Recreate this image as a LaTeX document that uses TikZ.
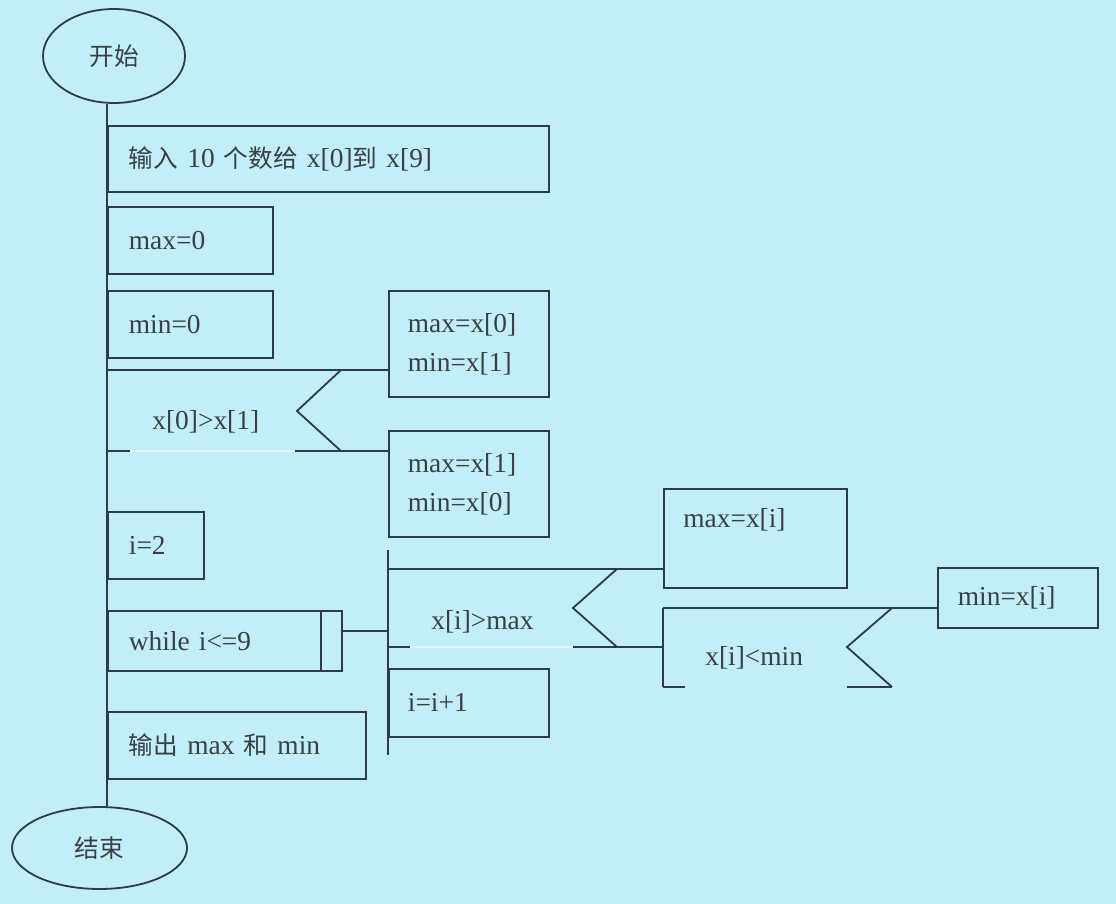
\documentclass[tikz,border=0pt]{standalone}
\usepackage{fontspec}
\setmainfont{Liberation Serif}
\newfontfamily\cjk[Scale=0.9]{Noto Sans CJK SC}
\usetikzlibrary{shapes.geometric, positioning}
\definecolor{nsBack}{HTML}{C1EEF7}
\definecolor{nsLine}{HTML}{2E3A4C}
\definecolor{nsText}{HTML}{3A3F45}
\newcommand{\nsfont}{\fontsize{13.7}{19.5}\selectfont}
\tikzset{
  nsline/.style = {nsLine, line width=0.9pt},
  faint/.style  = {white!55!nsBack, line width=0.9pt},
  term/.style   = {ellipse, draw=nsLine, line width=0.9pt, inner sep=0pt,
                   font=\nsfont, text=nsText},
  blk/.style    = {rectangle, draw=nsLine, line width=0.9pt, anchor=north west,
                   inner xsep=10.5pt, inner ysep=0pt, align=left,
                   font=\nsfont, text=nsText},
  lbl/.style    = {anchor=west, inner sep=0pt, font=\nsfont, text=nsText},
}

\begin{document}
\begin{tikzpicture}[x=0.5pt, y=-0.5pt]
  \fill[nsBack] (0,0) rectangle (1116,904);
  \useasboundingbox (0,0) rectangle (1116,904);
  % start and end
  \node[term, minimum width=71pt, minimum height=47pt] (start) at (114,56) {{\cjk 开始}};
  \node[term, minimum width=87.5pt, minimum height=41pt] (stop) at (99.5,848) {{\cjk 结束}};
  % main sequence
  \node[blk, minimum width=220.5pt, minimum height=33pt, text width=199.5pt] (inp) at (107,125)
    {{\cjk 输入} 10 {\cjk 个数给} x[0]{\cjk 到} x[9]};
  \node[blk, minimum width=82.5pt, minimum height=33.5pt, text width=61.5pt] (mx0) at (107,206) {max=0};
  \node[blk, minimum width=82.5pt, minimum height=33.5pt, text width=61.5pt] (mn0) at (107,290) {min=0};
  \node[blk, minimum width=48pt, minimum height=33.5pt, text width=27pt] (ini) at (107,511) {i=2};
  \node[blk, minimum width=117pt, minimum height=30pt, text width=96pt] (wh) at (107,610) {while i<=9};
  \draw[nsline] ([xshift=-11pt]wh.north east) -- ([xshift=-11pt]wh.south east);
  \node[blk, minimum width=129pt, minimum height=33.5pt, text width=108pt] (out) at (107,711)
    {{\cjk 输出} max {\cjk 和} min};
  \draw[nsline] (inp.west |- start.south) -- (inp.west |- stop.north);
  % first choice
  \node[blk, inner xsep=9.5pt, minimum width=80pt, minimum height=53pt, text width=61pt] (br1) at (388,290)
    {max=x[0]\\min=x[1]};
  \node[blk, inner xsep=9.5pt, minimum width=80pt, minimum height=53pt, text width=61pt] (br2) at (388,430)
    {max=x[1]\\min=x[0]};
  \coordinate (d1t) at (107,370);
  \coordinate (d1b) at (107,451);
  \draw[nsline] (d1t) -- (d1t -| br1.west);
  \draw[nsline] (341,370) -- (297,411) -- (341,451);
  \draw[nsline] (d1b) -- (130,451);
  \draw[faint] (130,451) -- (295,451);
  \draw[nsline] (295,451) -- (d1b -| br2.west);
  \node[lbl] (c1) at (152,422) {x[0]>x[1]};
  % loop body
  \coordinate (lt) at (388,550);
  \coordinate (lb) at (388,755);
  \draw[nsline] (lt) -- (lb);
  \draw[nsline] ([yshift=5pt]wh.east) -- ([yshift=5pt]wh.east -| lt);
  \node[blk, minimum width=91.5pt, minimum height=49.5pt] (mx) at (663,488) {};
  \node[lbl] (mxt) at (683,520) {max=x[i]};
  \node[blk, inner xsep=10pt, minimum width=80pt, minimum height=30pt, text width=60pt] (mn) at (937,567) {min=x[i]};
  \node[blk, inner xsep=9.5pt, minimum width=80pt, minimum height=34pt, text width=61pt] (inc) at (388,668) {i=i+1};
  \coordinate (d2t) at (388,569);
  \coordinate (d2b) at (388,647);
  \coordinate (d3t) at (663,608);
  \coordinate (d3b) at (663,687);
  \draw[nsline] (d2t) -- (d2t -| mx.west);
  \draw[nsline] (617,569) -- (573,608) -- (617,647);
  \draw[nsline] (d2b) -- (410,647);
  \draw[faint] (410,647) -- (573,647);
  \draw[nsline] (573,647) -- (d2b -| d3t);
  \node[lbl] (c2) at (431,622) {x[i]>max};
  % second choice
  \draw[nsline] (d3t) -- (d3b);
  \draw[nsline] (d3t) -- (d3t -| mn.west);
  \draw[nsline] (892,608) -- (847,647) -- (892,687);
  \draw[nsline] (d3b) -- (685,687);
  \draw[nsline] (847,687) -- (892,687);
  \node[lbl] (c3) at (705,658) {x[i]<min};
\end{tikzpicture}
\end{document}
